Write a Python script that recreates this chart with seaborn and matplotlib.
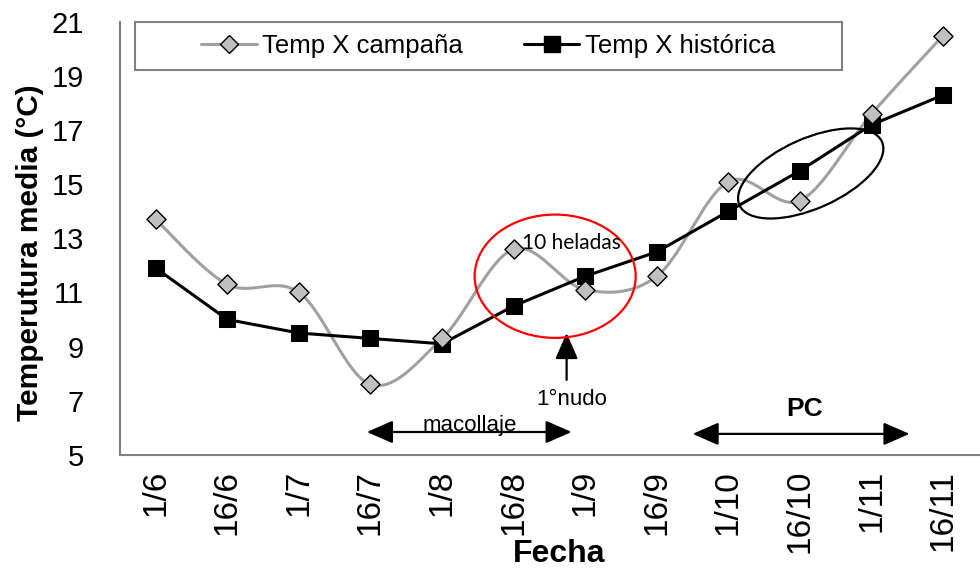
import numpy as np
import matplotlib
matplotlib.use("Agg")
import matplotlib.pyplot as plt
import seaborn as sns
from matplotlib.patches import Ellipse, Rectangle
from matplotlib.lines import Line2D
from matplotlib.transforms import ScaledTranslation

# ---- data ----
fechas = ['1/6', '16/6', '1/7', '16/7', '1/8', '16/8', '1/9', '16/9', '1/10', '16/10', '1/11', '16/11']
temp_campana = [13.7, 11.3, 11.0, 7.6, 9.3, 12.6, 11.1, 11.6, 15.1, 14.4, 17.6, 20.5]
temp_historica = [11.9, 10.0, 9.5, 9.3, 9.1, 10.5, 11.6, 12.5, 14.0, 15.5, 17.2, 18.3]
y_ticks = [5, 7, 9, 11, 13, 15, 17, 19, 21]
serie_labels = ['Temp X campaña', 'Temp X histórica']

sns.set_style("white")
plt.rcParams['font.family'] = ['Liberation Sans', 'DejaVu Sans']
plt.rcParams['text.color'] = 'black'
plt.rcParams['axes.labelcolor'] = 'black'
plt.rcParams['xtick.color'] = 'black'
plt.rcParams['ytick.color'] = 'black'

fig = plt.figure(figsize=(9.8, 5.78), dpi=100)
ax = fig.add_axes([0.1224, 0.2133, 0.8765, 0.7486])

idx = np.arange(len(fechas))

# smooth (Excel-like Bezier) curve for campaña
def bezier_smooth(x, y, n=30):
    x = np.asarray(x, float); y = np.asarray(y, float)
    px = np.concatenate([[x[0]], x, [x[-1]]])
    py = np.concatenate([[y[0]], y, [y[-1]]])
    xs, ys = [], []
    t = np.linspace(0, 1, n)
    for i in range(len(x) - 1):
        p0 = np.array([px[i + 1], py[i + 1]])
        p3 = np.array([px[i + 2], py[i + 2]])
        c1 = p0 + (np.array([px[i + 2], py[i + 2]]) - np.array([px[i], py[i]])) / 6
        c2 = p3 - (np.array([px[i + 3], py[i + 3]]) - np.array([px[i + 1], py[i + 1]])) / 6
        b = ((1 - t)[:, None] ** 3 * p0 + 3 * ((1 - t) ** 2 * t)[:, None] * c1
             + 3 * ((1 - t) * t ** 2)[:, None] * c2 + (t ** 3)[:, None] * p3)
        xs.extend(b[:, 0]); ys.extend(b[:, 1])
    return np.array(xs), np.array(ys)

sx, sy = bezier_smooth(idx, temp_campana)
ax.plot(sx, sy, color='#A0A0A0', lw=2.2, zorder=2)
sns.scatterplot(x=idx, y=temp_campana, marker='D', s=95, color='#C0C0C0',
                edgecolor='black', linewidth=1.0, ax=ax, zorder=4, legend=False)
sns.lineplot(x=idx, y=temp_historica, color='black', lw=2.2, marker='s',
             markersize=11, markeredgecolor='black', ax=ax, zorder=3, legend=False)

# axes
ax.set_xlim(-0.5, len(fechas) - 0.5)
ax.set_ylim(5, 21)
ax.set_yticks(y_ticks)
ax.set_yticklabels([str(v) for v in y_ticks], fontsize=21)
ax.set_xticks(np.arange(-0.5, len(fechas), 1.0))
ax.set_xticklabels([])
ax.set_xticks(idx, minor=True)
ax.set_xticklabels(fechas, minor=True, rotation=90, fontsize=24)
ax.tick_params(axis='x', which='major', direction='out', length=7, width=1.3, color='#808080')
ax.tick_params(axis='x', which='minor', length=0, pad=11)
ax.tick_params(axis='y', direction='out', length=11, width=1.3, color='#808080', pad=15)
for s in ['top', 'right']:
    ax.spines[s].set_visible(False)
for s in ['left', 'bottom']:
    ax.spines[s].set_color('#808080')
    ax.spines[s].set_linewidth(1.5)
ax.set_xlabel('Fecha', fontsize=23, fontweight='bold')
ax.xaxis.set_label_coords(0.5116, -0.2295)
ax.xaxis.label.set_va('center')
ax.set_ylabel('Temperutura media (°C)', fontsize=21.5, fontweight='bold')
ax.yaxis.set_label_coords(-0.105, 0.467)
ax.yaxis.label.set_va('center')
ax.grid(False)

# legend with manual frame
ax.add_patch(Rectangle((0.0175, 0.889), 0.823, 0.111, transform=ax.transAxes,
                       facecolor='white', edgecolor='#808080', lw=1.5, zorder=5, clip_on=False))
handles = [
    Line2D([], [], color='#A0A0A0', lw=2.2, marker='D', markersize=9.5,
           markerfacecolor='#C0C0C0', markeredgecolor='black'),
    Line2D([], [], color='black', lw=2.2, marker='s', markersize=11),
]
leg = ax.legend(handles, serie_labels, loc='center', bbox_to_anchor=(0.4286, 0.9445),
                ncol=2, frameon=False, fontsize=18.5, handlelength=2.15,
                handletextpad=0.2, columnspacing=2.4)
leg.set_zorder(6)

# annotations
ax.add_patch(Ellipse((5.58, 11.6), 2.25, 4.56, facecolor='none', edgecolor='red', lw=1.6, zorder=5))
ax.add_patch(Ellipse((0, 0), 1.56, 0.70, angle=24, facecolor='none', edgecolor='black', lw=1.6,
                     transform=fig.dpi_scale_trans + ScaledTranslation(9.15, 15.40, ax.transData),
                     zorder=5))
ax.text(5.12, 12.84, '10 heladas', fontsize=15, family=['Lato', 'DejaVu Sans'],
        ha='left', va='center', zorder=6)

arrow_kw = dict(color='black', lw=1.6, shrinkA=0, shrinkB=0, mutation_scale=20)
ax.annotate('', xy=(5.74, 9.5), xytext=(5.74, 7.77),
            arrowprops=dict(arrowstyle='-|>,head_length=0.8,head_width=0.35', **arrow_kw))
ax.text(5.81, 7.06, '1°nudo', fontsize=16, ha='center', va='center')

ax.annotate('', xy=(2.95, 5.84), xytext=(5.81, 5.84),
            arrowprops=dict(arrowstyle='<|-|>,head_length=0.8,head_width=0.35', **arrow_kw))
ax.text(4.39, 5.88, 'macollaje', fontsize=16, ha='center', va='baseline')

ax.annotate('', xy=(7.50, 5.77), xytext=(10.53, 5.77),
            arrowprops=dict(arrowstyle='<|-|>,head_length=0.8,head_width=0.35', **arrow_kw))
ax.text(9.07, 6.69, 'PC', fontsize=19, fontweight='bold', ha='center', va='center')

fig.savefig('out.png', dpi=100)
